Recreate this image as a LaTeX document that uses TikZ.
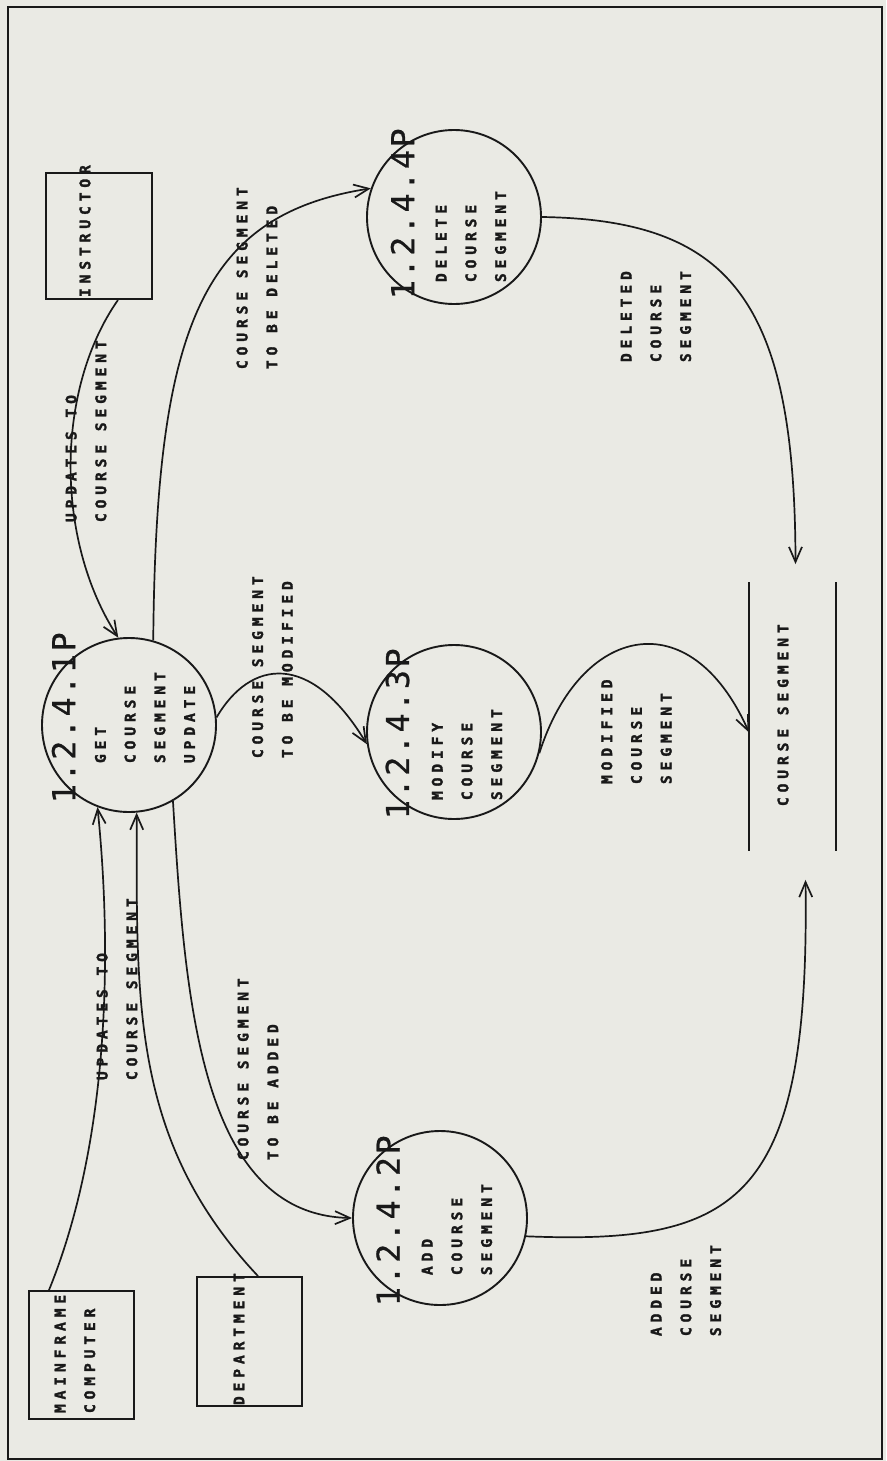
\documentclass[tikz,border=0pt]{standalone}
\usepackage{fontspec}
\usetikzlibrary{arrows.meta}
\newfontfamily\dfdfont[LetterSpace=33.5, BoldFeatures={FakeBold=2}]{DejaVu Sans Mono}
\newfontfamily\numfont[LetterSpace=8.6, FakeBold=0.8]{DejaVu Sans Mono}
\definecolor{paper}{RGB}{234,234,228}
\definecolor{ink}{RGB}{25,25,25}
\begin{document}
\begin{tikzpicture}[x=1pt, y=-1pt, line width=1.9pt, color=ink,
  >={Straight Barb[length=15pt,width=13pt]},
  proc/.style={draw, circle, minimum size=174pt, inner sep=0pt},
  ext/.style={draw, rectangle, inner sep=0pt},
  lbl/.style={rotate=90, inner sep=0pt, align=left, anchor=west,
    font=\dfdfont\bfseries\fontsize{14.6}{29.7}\selectfont},
  pnum/.style={rotate=90, inner sep=0pt, anchor=west,
    font=\numfont\fontsize{31.5}{34}\selectfont},
  flow/.style={->, line width=1.7pt}]
\fill[paper] (0,0) rectangle (886,1461);
\useasboundingbox (0,0) rectangle (886,1461);
\draw (8,7) rectangle (882,1459);

\node[proc] (get) at (129,725) {};
\node[proc] (mod) at (454,732) {};
\node[proc] (del) at (454,217) {};
\node[proc] (add) at (440,1218) {};
\node[pnum] (get-n) at (63.5,804) {1.2.4.1P};
\node[pnum] (mod-n) at (397.5,820) {1.2.4.3P};
\node[pnum] (del-n) at (402.5,300) {1.2.4.4P};
\node[pnum] (add-n) at (388,1307) {1.2.4.2P};
\node[lbl] (get-t) at (145,764) {GET\\COURSE\\SEGMENT\\UPDATE};
\node[lbl] (mod-t) at (467,801) {MODIFY\\COURSE\\SEGMENT};
\node[lbl] (del-t) at (471,283) {DELETE\\COURSE\\SEGMENT};
\node[lbl] (add-t) at (457,1276) {ADD\\COURSE\\SEGMENT};

\node[ext, minimum width=106pt, minimum height=126pt] (instr) at (99,236) {};
\node[ext, minimum width=105pt, minimum height=128pt] (main) at (81.5,1355) {};
\node[ext, minimum width=105pt, minimum height=129pt] (dept) at (249.5,1341.5) {};
\node[lbl] (instr-t) at (85,298) {INSTRUCTOR};
\node[lbl] (main-t) at (75,1414) {MAINFRAME\\COMPUTER};
\node[lbl] (dept-t) at (239,1406) {DEPARTMENT};

\node[minimum width=85pt, minimum height=267pt, inner sep=0pt] (store) at (792.5,716.5) {};
\draw (store.north west) -- (store.south west) (store.north east) -- (store.south east);
\node[lbl] (store-t) at (783,807) {COURSE SEGMENT};

\draw[flow] ([xshift=19pt]instr.south) .. controls (55,390) and (55,540) .. (get.97);
\draw[flow] ([xshift=-32.5pt]main.north) .. controls (110,1140) and (112,950) .. (get.249);
\draw[flow] ([xshift=8.5pt]dept.north) .. controls (130,1140) and (137,1000) .. (get.275);
\draw[flow] (get.74) .. controls (156,330) and (200,215) .. (del.161);
\draw[flow] (get.5) .. controls (250,660) and (310,650) .. (mod.188);
\draw[flow] (get.-60) .. controls (185,1000) and (200,1215) .. (add.west);
\draw[flow] (del.east) .. controls (730,220) and (795,300) .. ([xshift=3pt,yshift=18pt]store.north);
\draw[flow] (mod.-14) .. controls (580,625) and (690,600) .. ([yshift=-16pt]store.west);
\draw[flow] (add.-12) .. controls (740,1245) and (810,1200) .. ([xshift=13pt,yshift=-29pt]store.south);

\node[lbl] (f1-l) at (86,523) {UPDATES TO\\COURSE SEGMENT};
\node[lbl] (f2-l) at (117,1081) {UPDATES TO\\COURSE SEGMENT};
\node[lbl] (f3-l) at (257,370) {COURSE SEGMENT\\TO BE DELETED};
\node[lbl] (f4-l) at (272.5,759) {COURSE SEGMENT\\TO BE MODIFIED};
\node[lbl] (f5-l) at (258,1161) {COURSE SEGMENT\\TO BE ADDED};
\node[lbl] (f6-l) at (656,363) {DELETED\\COURSE\\SEGMENT};
\node[lbl] (f7-l) at (636.5,785) {MODIFIED\\COURSE\\SEGMENT};
\node[lbl] (f8-l) at (686,1337) {ADDED\\COURSE\\SEGMENT};
\end{tikzpicture}
\end{document}
